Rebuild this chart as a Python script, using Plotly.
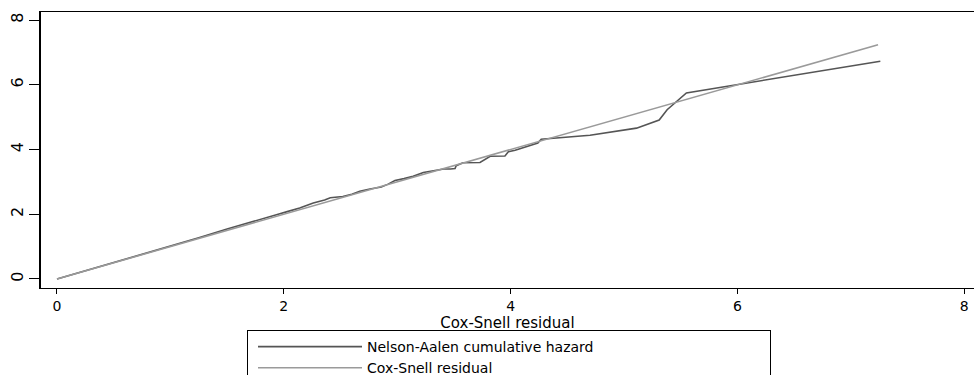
import plotly.graph_objects as go

# Nelson-Aalen cumulative hazard of the Cox-Snell residuals
na_x = [0, 0.25, 0.5, 0.75, 1.0, 1.25, 1.5, 1.65, 1.8, 1.95, 2.03, 2.14, 2.26, 2.36,
        2.41, 2.52, 2.60, 2.67, 2.76, 2.86, 2.92, 2.98, 3.06, 3.14, 3.23, 3.32, 3.41,
        3.47, 3.51, 3.52, 3.58, 3.73, 3.76, 3.82, 3.95, 3.98, 4.04, 4.14, 4.24, 4.27,
        4.70, 5.11, 5.31, 5.38, 5.55, 7.26]
na_y = [0, 0.25, 0.51, 0.76, 1.01, 1.27, 1.54, 1.70, 1.85, 2.00, 2.08, 2.19, 2.35, 2.44,
        2.51, 2.55, 2.62, 2.71, 2.78, 2.84, 2.93, 3.04, 3.10, 3.17, 3.29, 3.35, 3.40,
        3.40, 3.41, 3.50, 3.59, 3.60, 3.66, 3.79, 3.80, 3.93, 3.98, 4.08, 4.20, 4.32,
        4.44, 4.66, 4.91, 5.23, 5.75, 6.73]

# Reference line: Cox-Snell residual against itself
cs_x = [0, 7.24]
cs_y = [0, 7.24]

tick_vals = [0, 2, 4, 6, 8]
tick_text = ["0", "2", "4", "6", "8"]

FONT = "DejaVu Sans"

# the reference is a crop whose legend box runs past the bottom edge,
# so the figure is a little taller than the 375 px window
FIG_H = 395
M_TOP, M_BOT = 12, FIG_H - 288
PLOT_H = FIG_H - M_TOP - M_BOT

fig = go.Figure()
fig.add_trace(go.Scatter(x=na_x, y=na_y, mode="lines",
                         name="Nelson-Aalen cumulative hazard",
                         line=dict(color="#555555", width=1.6)))
fig.add_trace(go.Scatter(x=cs_x, y=cs_y, mode="lines",
                         name="Cox-Snell residual",
                         line=dict(color="#9a9a9a", width=1.6)))

fig.update_layout(
    width=974, height=FIG_H,
    margin=dict(l=41, r=0, t=M_TOP, b=M_BOT),
    paper_bgcolor="white", plot_bgcolor="white",
    font=dict(family=FONT, color="black", size=14),
    showlegend=True,
    legend=dict(
        orientation="h",
        x=(247 - 41) / 933, xanchor="left",
        y=(288 - 330) / PLOT_H, yanchor="top",
        bordercolor="black", borderwidth=1,
        bgcolor="white",
        font=dict(family=FONT, size=14, color="black"),
        itemwidth=104, indentation=5,
        entrywidth=398, entrywidthmode="pixels",
        traceorder="normal",
    ),
    xaxis=dict(
        range=[-0.141, 8.086], automargin=False,
        tickmode="array", tickvals=tick_vals, ticktext=tick_text,
        ticks="outside", ticklen=5, tickwidth=1, tickcolor="black",
        ticklabeloverflow="allow",
        showline=True, linecolor="black", linewidth=1, mirror=True,
        showgrid=False, zeroline=False,
        tickfont=dict(family=FONT, size=14, color="black"),
        title=dict(text="Cox-Snell residual", standoff=0,
                   font=dict(family=FONT, size=15, color="black")),
    ),
    yaxis=dict(
        range=[-0.28, 8.25], automargin=False,
        tickmode="array", tickvals=tick_vals, ticktext=tick_text,
        ticks="outside", ticklen=10, tickwidth=1, tickcolor="black",
        tickangle=-90,
        showline=True, linecolor="black", linewidth=1.5,
        showgrid=False, zeroline=False,
        tickfont=dict(family=FONT, size=16, color="black"),
    ),
)

fig.write_html(
    "out.html",
    config={"displayModeBar": False},
    post_script="document.body.style.margin='0';document.body.style.overflow='hidden';",
)
